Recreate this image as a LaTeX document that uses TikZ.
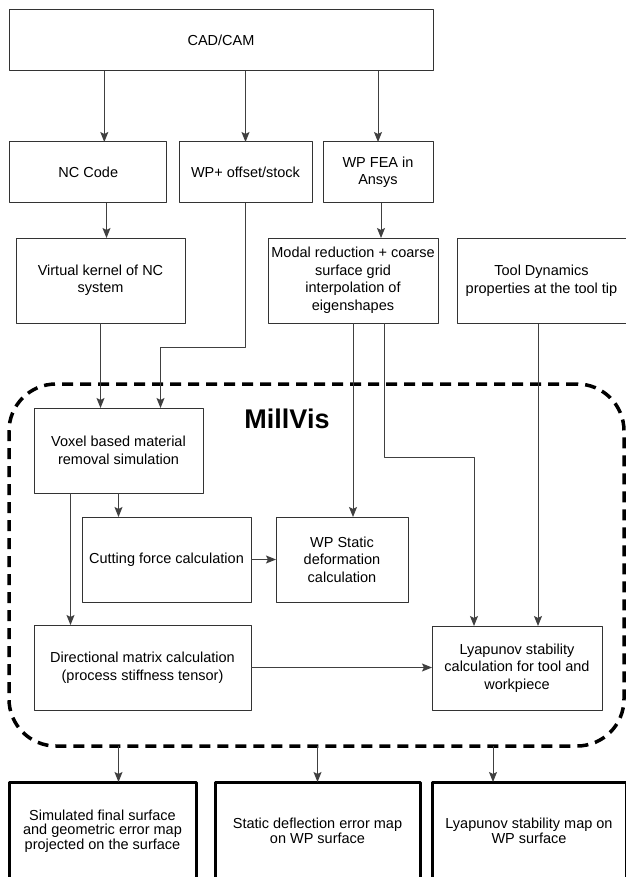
\documentclass[tikz,border=0pt]{standalone}
\usepackage{fontspec}
\setmainfont{Liberation Sans}
\usetikzlibrary{arrows.meta}
\begin{document}
\begin{tikzpicture}[line join=round, >={Stealth[length=10pt,width=8pt,inset=2pt]}, x=1pt, y=-1pt,
  box/.style={draw=black!80, line width=1pt, align=center, inner sep=2pt, outer sep=0pt, font=\fontsize{14.5}{17.5}\selectfont},
  outbox/.style={box, draw=black, line width=3pt, font=\fontsize{14.5}{14.5}\selectfont},
  link/.style={->, draw=black!75, line width=1pt}]
\useasboundingbox (0,0) rectangle (625,877);
% inputs
\node[box, minimum width=424, minimum height=61] (cad) at (221,40.5) {CAD/CAM};
\node[box, minimum width=157, minimum height=61] (nc) at (88.3,172.5) {NC Code};
\node[box, minimum width=133, minimum height=61] (wpo) at (245.5,172.5) {WP+ offset/stock};
\node[box, minimum width=110, minimum height=61] (fea) at (378,172.5) {WP FEA in\\Ansys};
\node[box, minimum width=169, minimum height=85] (vk) at (100.5,280.5) {Virtual kernel of NC\\system};
\node[box, minimum width=170, minimum height=85] (modal) at (353,280.5) {Modal reduction + coarse\\surface grid\\interpolation of\\eigenshapes};
\node[box, minimum width=169, minimum height=85] (tool) at (541.5,281) {Tool Dynamics\\properties at the tool tip};
% MillVis
\node[draw, dash pattern=on 11pt off 7pt, line width=3.5pt, rounded corners=47pt, outer sep=0pt, minimum width=615, minimum height=362] (mv) at (316.5,565) {};
\node[font=\fontsize{27}{27}\selectfont\bfseries] (title) at (287,419) {MillVis};
\node[box, minimum width=169, minimum height=85] (vox) at (118.5,450.5) {Voxel based material\\removal simulation};
\node[box, minimum width=169, minimum height=85] (cut) at (166.5,559.5) {Cutting force calculation};
\node[box, minimum width=132, minimum height=85] (wps) at (342,559.5) {WP Static\\deformation\\calculation};
\node[box, minimum width=217, minimum height=85] (dir) at (142.5,667.5) {Directional matrix calculation\\(process stiffness tensor)};
\node[box, minimum width=170, minimum height=84] (lya) at (517,668) {Lyapunov stability\\calculation for tool and\\workpiece};
% outputs
\node[outbox, minimum width=187, minimum height=98] (out1) at (102.5,831) {Simulated final surface\\and geometric error map\\projected on the surface};
\node[outbox, minimum width=205, minimum height=98] (out2) at (317.5,831) {Static deflection error map\\on WP surface};
\node[outbox, minimum width=194, minimum height=98] (out3) at (529,831) {Lyapunov stability map on\\WP surface};
% connectors
\draw[link] ([xshift=16]nc.north |- cad.south) -- ([xshift=16]nc.north);
\draw[link] (cad.south -| wpo.north) -- (wpo.north);
\draw[link] (cad.south -| fea.north) -- (fea.north);
\draw[link] ([xshift=6]vk.north |- nc.south) -- ([xshift=6]vk.north);
\draw[link] ([xshift=3]fea.south) -- ([xshift=3]fea.south |- modal.north);
\draw[link] (vk.south) -- (vk.south |- vox.north);
\draw[link] (wpo.south) -- ++(0,144) -| ([xshift=42]vox.north);
\draw[link] (modal.south) -- (modal.south |- wps.north);
\draw[link] ([xshift=31]modal.south) -- ++(0,134) -| ([xshift=-43]lya.north);
\draw[link] ([xshift=21]lya.north |- tool.south) -- ([xshift=21]lya.north);
\draw[link] (vox.south) -- (vox.south |- cut.north);
\draw[link] ([xshift=-48]vox.south) -- ([xshift=-48]vox.south |- dir.north);
\draw[link] (cut.east) -- (wps.west);
\draw[link] (dir.east) -- (lya.west |- dir.east);
\foreach \o/\s in {out1/16, out2/0, out3/-36}{
\draw[link] ([xshift=\s]\o.north |- mv.south) -- ([xshift=\s]\o.north);
}
\end{tikzpicture}
\end{document}
